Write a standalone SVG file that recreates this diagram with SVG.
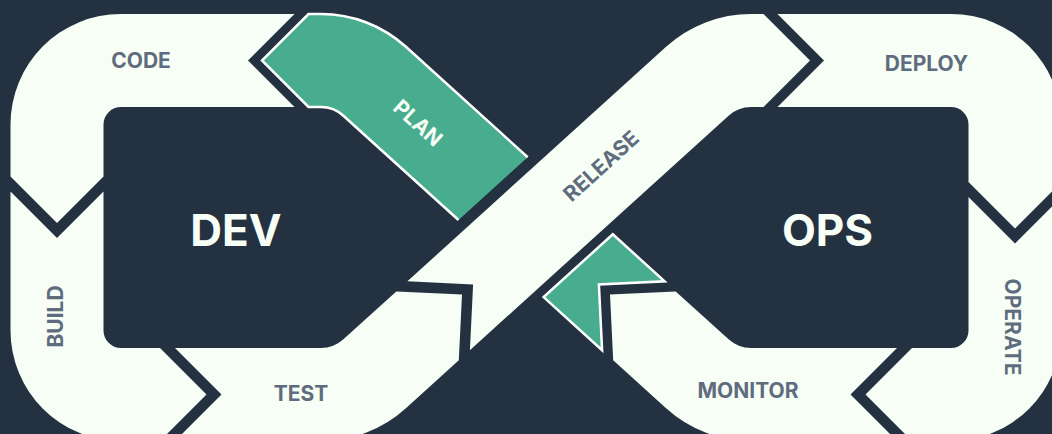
<svg xmlns="http://www.w3.org/2000/svg" width="1052" height="434" viewBox="0 0 1052 434">
<style>
.band{fill:#f6fef6}
.green{fill:#48ad8e}
.outline{fill:none;stroke:#ffffff;stroke-width:2.5;stroke-linejoin:miter}
.lbl{font-family:Inter,"Liberation Sans",sans-serif;font-weight:700;font-size:21px;fill:#5f6c7e;text-anchor:middle}
.lblw{font-family:Inter,"Liberation Sans",sans-serif;font-weight:700;font-size:21px;fill:#f6fef6;text-anchor:middle}
.big{font-family:Inter,"Liberation Sans",sans-serif;font-weight:700;font-size:44px;fill:#f6fef6;text-anchor:middle}
</style>
<rect width="1052" height="434" fill="#243141"/>
<g id="connectors"></g>
<g id="node-plan">
<path class="green" d="M 527.7 157.2 L 405.9 46.8 A 126.5 126.5 0 0 0 320.9 14 L 308.5 14 L 262 60.5 L 308.5 107 L 320.9 107 A 33.5 33.5 0 0 1 343.4 115.7 L 458.5 220 Z"/>
<path class="outline" d="M 527.7 157.2 L 405.9 46.8 A 126.5 126.5 0 0 0 320.9 14 L 308.5 14 L 262 60.5 L 308.5 107 L 320.9 107 A 33.5 33.5 0 0 1 343.4 115.7 L 458.5 220"/>
<path class="green outline" style="fill:#48ad8e" d="M 612.8 234.3 L 664.6 281.3 L 598.9 284.5 L 602.1 350.2 L 543.6 297.1 Z"/>
<text class="lblw" transform="translate(418,123) rotate(42.2)" x="0" y="7.5">PLAN</text>
</g>
<g id="node-code">
<path class="band" d="M 294.5 14 L 121 14 A 110.5 110.5 0 0 0 10.5 124.5 L 10.5 176.5 L 57 223 L 103.5 176.5 L 103.5 124.5 A 17.5 17.5 0 0 1 121 107 L 294.5 107 L 248 60.5 Z"/>
<text class="lbl" x="141" y="68">CODE</text>
</g>
<g id="node-build">
<path class="band" d="M 10.5 191.5 L 57 238 L 103.5 191.5 L 103.5 330.5 A 17.5 17.5 0 0 0 121 348 L 160 348 L 206.5 394.5 L 160 441 L 121 441 A 110.5 110.5 0 0 1 10.5 330.5 Z"/>
<text class="lbl" transform="translate(55,316.5) rotate(-90)" x="0" y="7.5">BUILD</text>
</g>
<g id="node-test">
<path class="band" d="M 175 348 L 320.9 348 A 33.5 33.5 0 0 0 343.4 339.3 L 396.3 291.4 L 462 294.6 L 458.8 360.3 L 405.9 408.2 A 126.5 126.5 0 0 1 320.9 441 L 175 441 L 221.5 394.5 Z"/>
<text class="lbl" x="301" y="401">TEST</text>
</g>
<g id="node-release">
<path class="band" d="M 407.4 281.3 L 666.1 46.8 A 126.5 126.5 0 0 1 751.1 14 L 763.5 14 L 810 60.5 L 763.5 107 L 751.1 107 A 33.5 33.5 0 0 0 728.6 115.7 L 469.9 350.2 L 473.1 284.5 Z"/>
<text class="lbl" transform="translate(601,166) rotate(-42.2)" x="0" y="7.5">RELEASE</text>
</g>
<g id="node-deploy">
<path class="band" d="M 777.5 14 L 951 14 A 110.5 110.5 0 0 1 1061.5 124.5 L 1061.5 182 L 1015 228.5 L 968.5 182 L 968.5 124.5 A 17.5 17.5 0 0 0 951 107 L 777.5 107 L 824 60.5 Z"/>
<text class="lbl" x="926.5" y="70.5">DEPLOY</text>
</g>
<g id="node-operate">
<path class="band" d="M 1061.5 197 L 1015 243.5 L 968.5 197 L 968.5 330.5 A 17.5 17.5 0 0 1 951 348 L 912 348 L 865.5 394.5 L 912 441 L 951 441 A 110.5 110.5 0 0 0 1061.5 330.5 Z"/>
<text class="lbl" transform="translate(1012.5,327) rotate(90)" x="0" y="7.5">OPERATE</text>
</g>
<g id="node-monitor">
<path class="band" d="M 897 348 L 751.1 348 A 33.5 33.5 0 0 1 728.6 339.3 L 675.7 291.4 L 610 294.6 L 613.2 360.3 L 666.1 408.2 A 126.5 126.5 0 0 0 751.1 441 L 897 441 L 850.5 394.5 Z"/>
<text class="lbl" x="748" y="397.5">MONITOR</text>
</g>
<g id="node-dev">
<text class="big" x="236" y="245.5">DEV</text>
</g>
<g id="node-ops">
<text class="big" x="827.5" y="245.5">OPS</text>
</g>
</svg>
